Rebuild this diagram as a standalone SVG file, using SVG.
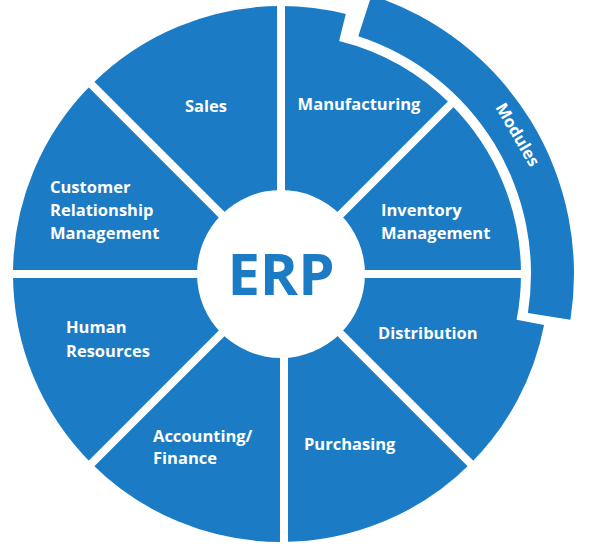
<svg xmlns="http://www.w3.org/2000/svg" width="600" height="548" viewBox="0 0 600 548">
<style>
.s{fill:#1b7bc4}
.t{fill:#fff;font-family:"Open Sans","DejaVu Sans",sans-serif;font-weight:bold;font-size:16.5px}
.sep{stroke:#fff;stroke-width:8}
</style>
<rect width="600" height="548" fill="#fff"/>
<g id="manufacturing"><path class="s" d="M281,274 L281,6 A268,268 0 0 1 345.8,14 L339.1,41.1 A240,240 0 0 1 450.7,104.3 Z"/><text class="t" x="359" y="110" text-anchor="middle">Manufacturing</text></g>
<g id="inventory"><path class="s" d="M281,274 L450.7,104.3 A240,240 0 0 1 521,274 Z"/><text class="t" x="381" y="216">Inventory</text><text class="t" x="381" y="239">Management</text></g>
<g id="distribution"><path class="s" d="M281,274 L521,274 A240,240 0 0 1 516.6,319.8 L544.1,325.1 A268,268 0 0 1 470.5,463.5 Z"/><text class="t" x="378" y="339">Distribution</text></g>
<g id="purchasing"><path class="s" d="M281,274 L470.5,463.5 A268,268 0 0 1 281,542 Z"/><text class="t" x="304" y="450">Purchasing</text></g>
<g id="accounting"><path class="s" d="M281,274 L281,542 A268,268 0 0 1 91.5,463.5 Z"/><text class="t" x="153" y="442">Accounting/</text><text class="t" x="153" y="464">Finance</text></g>
<g id="hr"><path class="s" d="M281,274 L91.5,463.5 A268,268 0 0 1 13,274 Z"/><text class="t" x="66" y="333">Human</text><text class="t" x="66" y="357">Resources</text></g>
<g id="crm"><path class="s" d="M281,274 L13,274 A268,268 0 0 1 91.5,84.5 Z"/><text class="t" x="50" y="193">Customer</text><text class="t" x="50" y="216">Relationship</text><text class="t" x="50" y="239">Management</text></g>
<g id="sales"><path class="s" d="M281,274 L91.5,84.5 A268,268 0 0 1 281,6 Z"/><text class="t" x="206" y="112" text-anchor="middle">Sales</text></g>
<g id="connectors">
<line class="sep" x1="281" y1="274" x2="281" y2="0"/>
<line class="sep" x1="284" y1="274" x2="284" y2="548"/>
<line class="sep" x1="0" y1="274" x2="560" y2="274"/>
<line class="sep" x1="60" y1="53" x2="502" y2="495"/>
<line class="sep" x1="60" y1="495" x2="502" y2="53"/>
</g>
<g id="erp"><circle cx="281" cy="274" r="84" fill="#fff"/><text x="281" y="295" text-anchor="middle" font-family="'Open Sans','DejaVu Sans',sans-serif" font-weight="bold" font-size="58" fill="#1b7bc4">ERP</text></g>
<g id="modules"><path class="s" d="M358.3,36.2 L371.5,-4.7 A293,293 0 0 1 570.4,319.8 L527.9,313.1 A250,250 0 0 0 358.3,36.2 Z"/><text class="t" transform="translate(517,135) rotate(59.5)" text-anchor="middle" dy="5">Modules</text></g>
</svg>
